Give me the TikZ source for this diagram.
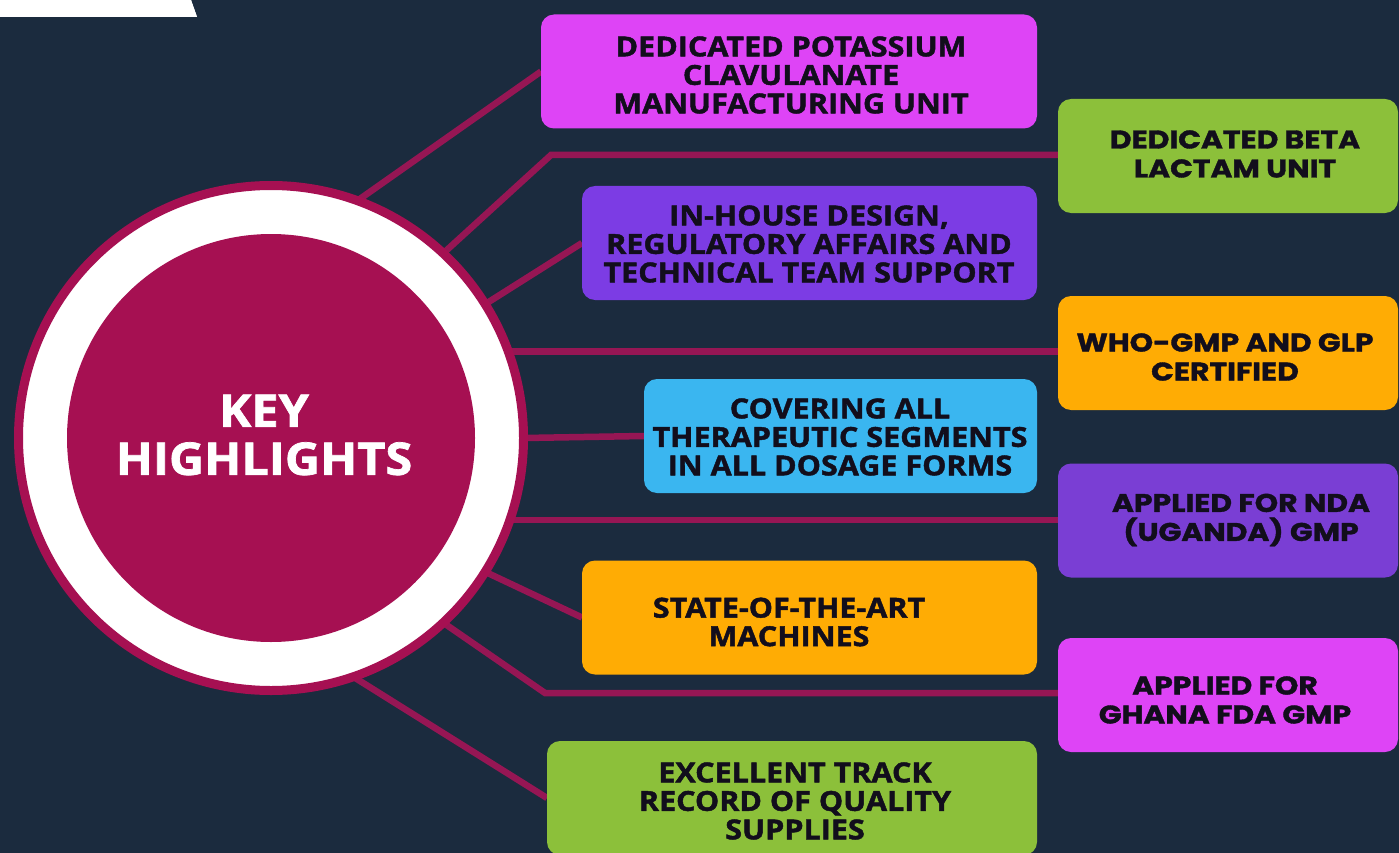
\documentclass[tikz,border=0pt]{standalone}
\usepackage{fontspec}
\newfontfamily\leftfont{Open Sans}[FakeStretch=1.11, BoldFeatures={FakeBold=1.6}]
\newfontfamily\titlefont{Open Sans}[FakeStretch=1.08, BoldFeatures={FakeBold=1.6}]
\newfontfamily\rightfont{Poppins}[FakeStretch=1.17, BoldFeatures={FakeBold=1.4}]
\usetikzlibrary{backgrounds}
\definecolor{bg}{RGB}{27,43,62}
\definecolor{crim}{RGB}{166,16,82}
\definecolor{wire}{RGB}{150,22,84}
\definecolor{ink}{RGB}{18,14,28}
\definecolor{magbox}{RGB}{222,68,246}
\definecolor{greenbox}{RGB}{140,192,58}
\definecolor{purpbox}{RGB}{124,60,228}
\definecolor{purpboxb}{RGB}{122,62,212}
\definecolor{orangebox}{RGB}{255,172,4}
\definecolor{bluebox}{RGB}{58,182,240}
\begin{document}
\begin{tikzpicture}[x=1pt,y=-1pt,
  box/.style={rounded corners=13pt, minimum width=#1, minimum height=114pt, inner sep=0pt, outer sep=0pt},
  ltxt/.style={font=\leftfont\bfseries\fontsize{27.5}{28.5}\selectfont, align=center, text=ink, inner sep=0pt},
  rtxt/.style={font=\rightfont\bfseries\fontsize{25.5}{29}\selectfont, align=center, text=ink, inner sep=0pt},
  conn/.style={draw=wire, line width=6.5pt}]
\useasboundingbox (0,0) rectangle (1399,853);
% top-left white tab
\fill[white] (0,0) -- (191,0) -- (197,17) -- (0,17) -- cycle;
% hub
\node[circle, fill=white, draw=crim, line width=9pt, minimum size=505pt, inner sep=0pt, outer sep=0pt] (hub) at (271,438) {};
\node[circle, fill=crim, minimum size=408pt, inner sep=0pt] (core) at (hub) {};
\node[font=\titlefont\bfseries\fontsize{45}{48}\selectfont, text=white, align=center, inner sep=0pt] (title) at (264,435) {KEY\\HIGHLIGHTS};
% boxes
\node[box=496pt, fill=magbox] (b1) at (789,71.5) {};
\node[box=340pt, fill=greenbox] (b2) at (1228,156) {};
\node[box=455pt, fill=purpbox] (b3) at (809.5,243) {};
\node[box=340pt, fill=orangebox] (b4) at (1228,353) {};
\node[box=393pt, fill=bluebox] (b5) at (840.5,436) {};
\node[box=340pt, fill=purpboxb] (b6) at (1228,520.5) {};
\node[box=455pt, fill=orangebox] (b7) at (809.5,617.5) {};
\node[box=340pt, fill=magbox] (b8) at (1228,695) {};
\node[box=490pt, fill=greenbox] (b9) at (792,798) {};
% texts
\node[ltxt] (t1) at (791,75) {DEDICATED POTASSIUM\\CLAVULANATE\\MANUFACTURING UNIT};
\node[rtxt] (t2) at (1235,154) {DEDICATED BETA\\LACTAM UNIT};
\node[ltxt] (t3) at (809,244) {IN-HOUSE DESIGN,\\REGULATORY AFFAIRS AND\\TECHNICAL TEAM SUPPORT};
\node[rtxt] (t4) at (1225,357) {WHO-GMP AND GLP\\CERTIFIED};
\node[ltxt] (t5) at (840,437) {COVERING ALL\\THERAPEUTIC SEGMENTS\\IN ALL DOSAGE FORMS};
\node[rtxt] (t6) at (1241,520) {APPLIED FOR NDA\\(UGANDA) GMP};
\node[ltxt] (t7) at (789,622) {STATE-OF-THE-ART\\MACHINES};
\node[rtxt] (t8) at (1225,700) {APPLIED FOR\\GHANA FDA GMP};
\node[ltxt] (t9) at (795,801) {EXCELLENT TRACK\\RECORD OF QUALITY\\SUPPLIES};
% bend points
\coordinate (k2) at (551,155);
\coordinate (k8) at (545,693);
\begin{pgfonlayer}{background}
\fill[bg] (0,0) rectangle (1399,853);
\fill[white] (0,0) -- (191,0) -- (197,17) -- (0,17) -- cycle;
\draw[conn] (hub.70) -- (b1.west);
\draw[conn] (hub.47) -- (k2) -- (k2 -| b2.west);
\draw[conn] (hub.32) -- (b3.west);
\draw[conn] (hub.20) -- (hub.20 -| b4.west);
\draw[conn] (hub.0) -- (b5.west);
\draw[conn] (hub.-19) -- (hub.-19 -| b6.west);
\draw[conn] (hub.-32) -- (b7.west);
\draw[conn] (hub.-47) -- (k8) -- (k8 -| b8.west);
\draw[conn] (hub.-71) -- (b9.west);
\end{pgfonlayer}
\end{tikzpicture}
\end{document}
